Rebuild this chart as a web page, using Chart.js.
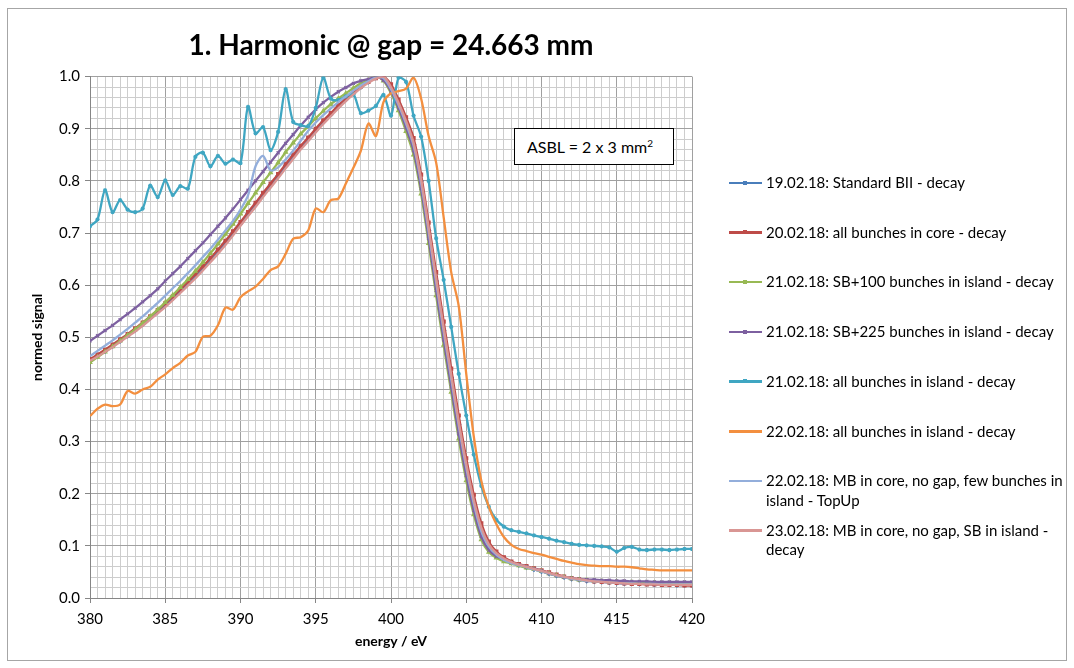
<!DOCTYPE html>
<html>
<head>
<meta charset="utf-8">
<script src="https://cdn.jsdelivr.net/npm/chart.js@4"></script>
<style>
  body { margin: 0; background: #fff; font-family: Lato, "Open Sans", sans-serif; }
  #wrap { position: relative; width: 1074px; height: 668px; }
  #frame { position: absolute; left: 7px; top: 8px; width: 1058px; height: 651px; border: 1px solid #a6a6a6; pointer-events: none; }
  canvas { position: absolute; left: 0; top: 0; }
  #note { position: absolute; left: 514px; top: 128px; width: 158px; height: 35px; border: 1.5px solid #000; background: #fff;
          font: 16px Lato, sans-serif; line-height: 35px; text-indent: 12px; color: #000; }
  #note sup { font-size: 10px; vertical-align: 6px; line-height: 0; }
  .item { position: absolute; left: 729px; width: 345px; font: 15px Lato, sans-serif; line-height: 19.5px; color: #000; }
  .item .swatch { position: absolute; left: 0; top: 8.5px; width: 33px; height: 2.5px; }
  .item .dot { position: absolute; left: 14px; top: 7.5px; width: 4px; height: 4px; }
  .item .txt { position: absolute; left: 37px; top: 0; width: 304px; }
</style>
</head>
<body>
<div id="wrap">
  <canvas id="chart" width="1074" height="668"></canvas>
  <div id="frame"></div>
  <div id="note">ASBL = 2 x 3 mm<sup>2</sup></div>
  <div id="legend"></div>
</div>
<script>
// energy axis (eV)
const energy = [
  380, 380.5, 381, 381.5, 382, 382.5, 383, 383.5, 384, 384.5, 385, 385.5, 386, 386.5, 387, 387.5, 388, 388.5, 389, 389.5, 390,
  390.5, 391, 391.5, 392, 392.5, 393, 393.5, 394, 394.5, 395, 395.5, 396, 396.5, 397, 397.5, 398, 398.5, 399, 399.5, 400,
  400.5, 401, 401.5, 402, 402.5, 403, 403.5, 404, 404.5, 405, 405.5, 406, 406.5, 407, 407.5, 408, 408.5, 409, 409.5, 410,
  410.5, 411, 411.5, 412, 412.5, 413, 413.5, 414, 414.5, 415, 415.5, 416, 416.5, 417, 417.5, 418, 418.5, 419, 419.5, 420
];

const seriesNames = [
  "19.02.18: Standard BII - decay",
  "20.02.18: all bunches in core - decay",
  "21.02.18: SB+100 bunches in island - decay",
  "21.02.18: SB+225 bunches in island - decay",
  "21.02.18: all bunches in island - decay",
  "22.02.18: all bunches in island - decay",
  "22.02.18: MB in core, no gap, few bunches in island - TopUp",
  "23.02.18: MB in core, no gap, SB in island - decay"
];

const standardBII = [
  .455,.464,.473,.483,.493,.503,.514,.525,.537,.549,.562,.575,.589,.603,.618,.633,.649,.665,.682,.700,.718,
  .737,.755,.774,.792,.810,.829,.847,.864,.880,.897,.913,.927,.942,.956,.968,.980,.990,.998,.998,
  .978,.948,.912,.870,.800,.705,.608,.513,.423,.333,.252,.183,.130,.100,.084,
  .074,.068,.063,.059,.055,.051,.047,.043,.040,.037,.035,.033,.032,.031,.030,.029,.028,.028,.027,.027,.026,.026,.026,.025,.025,.025
];
const coreDecay = [
  .458,.467,.476,.486,.496,.506,.517,.528,.540,.552,.565,.578,.592,.606,.621,.636,.652,.668,.685,.703,.721,
  .740,.758,.777,.795,.813,.832,.850,.867,.883,.900,.916,.930,.945,.958,.970,.981,.990,.997,1.0,
  .985,.956,.922,.882,.812,.720,.625,.530,.440,.350,.268,.198,.143,.108,.089,
  .078,.070,.065,.061,.057,.053,.049,.045,.041,.038,.036,.034,.032,.031,.030,.029,.028,.027,.027,.026,.026,.025,.025,.025,.024,.024
];
const sb100 = [
  .452,.462,.472,.482,.493,.504,.515,.527,.540,.553,.567,.581,.596,.611,.627,.644,.661,.679,.698,.717,.737,
  .757,.777,.797,.816,.835,.855,.873,.890,.905,.920,.934,.947,.958,.968,.978,.987,.993,1.0,.992,
  .968,.935,.895,.850,.775,.680,.580,.485,.395,.305,.225,.160,.112,.088,.077,
  .070,.066,.062,.058,.055,.051,.047,.043,.040,.037,.035,.034,.033,.032,.031,.031,.030,.030,.029,.029,.029,.028,.028,.028,.028,.028
];
const sb225 = [
  .493,.503,.513,.523,.534,.545,.556,.568,.580,.593,.608,.622,.636,.651,.666,.681,.697,.713,.729,.746,.764,
  .782,.800,.818,.836,.854,.872,.889,.906,.922,.937,.950,.961,.971,.979,.987,.992,.995,1.0,.993,
  .972,.940,.902,.858,.785,.690,.590,.495,.405,.315,.235,.168,.118,.092,.080,
  .074,.068,.064,.060,.056,.052,.047,.043,.040,.038,.036,.035,.035,.034,.034,.033,.033,.032,.032,.032,.031,.031,.031,.031,.031,.031
];
const islandDecay21 = [
  .713,.726,.782,.740,.763,.745,.740,.747,.791,.769,.801,.773,.790,.785,.846,.854,.828,.848,.833,.841,.834,
  .942,.891,.903,.859,.894,.976,.913,.907,.905,.940,.998,.958,.955,.962,.966,.930,.935,.944,.965,.925,
  .998,.990,.925,.885,.800,.690,.610,.520,.430,.350,.275,.215,.175,.150,.137,.130,.127,.124,.120,.117,
  .114,.110,.107,.104,.102,.101,.100,.099,.097,.089,.096,.098,.093,.092,.093,.093,.092,.093,.094,.094
];
const islandDecay22 = [
  .349,.363,.371,.368,.371,.397,.392,.400,.405,.419,.429,.441,.451,.465,.472,.501,.503,.523,.557,.553,.577,
  .588,.597,.612,.629,.636,.660,.689,.692,.705,.747,.740,.763,.766,.795,.825,.858,.910,.886,.951,.968,
  .972,.977,.998,.958,.886,.835,.730,.625,.560,.430,.310,.225,.175,.142,.117,.102,.094,.090,.086,.083,
  .079,.075,.071,.068,.065,.063,.062,.061,.061,.060,.060,.059,.057,.055,.054,.053,.053,.053,.053,.053
];
const mbTopUp = [
  .464,.474,.484,.494,.505,.516,.528,.540,.553,.566,.580,.594,.608,.623,.638,.654,.670,.687,.705,.723,.745,
  .772,.828,.848,.820,.826,.841,.858,.877,.896,.912,.926,.939,.951,.962,.973,.983,.991,.998,.997,
  .976,.946,.910,.868,.797,.703,.606,.511,.421,.331,.250,.181,.128,.099,.083,
  .073,.067,.063,.059,.055,.051,.047,.043,.040,.037,.035,.033,.032,.031,.030,.029,.028,.028,.027,.027,.027,.026,.026,.026,.026,.026
];
const mbSbIsland = [
  .455,.463,.472,.481,.491,.501,.511,.522,.534,.546,.558,.571,.585,.599,.613,.628,.644,.660,.677,.695,.714,
  .732,.750,.769,.787,.805,.824,.842,.860,.876,.893,.909,.924,.939,.953,.966,.978,.988,.996,1.0,
  .980,.950,.915,.873,.803,.710,.613,.518,.428,.338,.257,.188,.135,.103,.086,
  .076,.069,.064,.060,.056,.052,.048,.044,.041,.038,.036,.034,.032,.031,.030,.029,.028,.027,.027,.026,.026,.025,.025,.025,.025,.025
];

const seriesValues = [standardBII, coreDecay, sb100, sb225, islandDecay21, islandDecay22, mbTopUp, mbSbIsland];
const colors = ["#4a7ebb", "#be4b48", "#98b954", "#7d60a0", "#3fa6c2", "#f38f3f", "#93aedb", "#d99694"];
const markers = ["rectRot", "rect", "triangle", "crossRot", "star", false, false, false];

const isMajor = (v, step) => Math.abs(v / step - Math.round(v / step)) < 1e-6;

const datasets = seriesNames.map((name, i) => ({
  label: name,
  data: energy.map((x, j) => ({ x: x, y: seriesValues[i][j] })),
  borderColor: colors[i],
  backgroundColor: colors[i],
  borderWidth: 2.3,
  pointStyle: markers[i] || "circle",
  pointRadius: markers[i] ? 2.1 : 0,
  pointBorderWidth: 1.2,
  tension: 0.3,
  order: seriesNames.length - i
}));

const axisFont = { family: "Lato", size: 15 };

new Chart(document.getElementById("chart"), {
  type: "line",
  data: { datasets: datasets },
  options: {
    responsive: false,
    animation: false,
    layout: { padding: { left: 20, right: 382, top: 9, bottom: 10 } },
    plugins: {
      legend: { display: false },
      tooltip: { enabled: false },
      title: {
        display: true,
        fullSize: false,
        text: "1. Harmonic @ gap = 24.663 mm",
        color: "#000",
        font: { family: "Lato", size: 28, weight: "bold" },
        padding: { top: 20, bottom: 14 }
      }
    },
    scales: {
      x: {
        type: "linear",
        min: 380, max: 420,
        afterFit: s => { s.height = 60; },
        ticks: {
          stepSize: 0.5, autoSkip: false, maxRotation: 0, padding: 7,
          color: "#000", font: axisFont,
          callback: v => isMajor(v, 5) ? String(v) : ""
        },
        grid: {
          color: c => isMajor(c.tick.value, 5) ? "#a0a0a0" : "#cdcdcd",
          tickColor: c => isMajor(c.tick.value, 5) ? "#868686" : "rgba(0,0,0,0)",
          tickLength: 5
        },
        border: { color: "#868686" },
        title: {
          display: true, text: "energy / eV", color: "#000",
          font: { family: "Lato", size: 14, weight: "bold" },
          padding: { top: 0, bottom: 8 }
        }
      },
      y: {
        min: 0, max: 1,
        afterFit: s => { s.width = 70; },
        ticks: {
          stepSize: 0.02, autoSkip: false, padding: 5,
          color: "#000", font: axisFont,
          callback: v => isMajor(v, 0.1) ? v.toFixed(1) : ""
        },
        grid: {
          color: c => isMajor(c.tick.value, 0.1) ? "#a0a0a0" : "#cdcdcd",
          tickColor: c => isMajor(c.tick.value, 0.1) ? "#868686" : "rgba(0,0,0,0)",
          tickLength: 5
        },
        border: { color: "#868686" },
        title: {
          display: true, text: "normed signal", color: "#000",
          font: { family: "Lato", size: 14, weight: "bold" },
          padding: { top: 8.6, bottom: 0 }
        }
      }
    }
  }
});

// HTML legend, Excel style
const legend = document.getElementById("legend");
seriesNames.forEach((name, i) => {
  const el = document.createElement("div");
  el.className = "item";
  el.style.top = (173 + 49.7 * i) + "px";
  el.innerHTML = `<div class="swatch" style="background:${colors[i]}"></div>` +
    (markers[i] ? `<div class="dot" style="background:${colors[i]}"></div>` : "") +
    `<div class="txt">${name}</div>`;
  legend.appendChild(el);
});
</script>
</body>
</html>
